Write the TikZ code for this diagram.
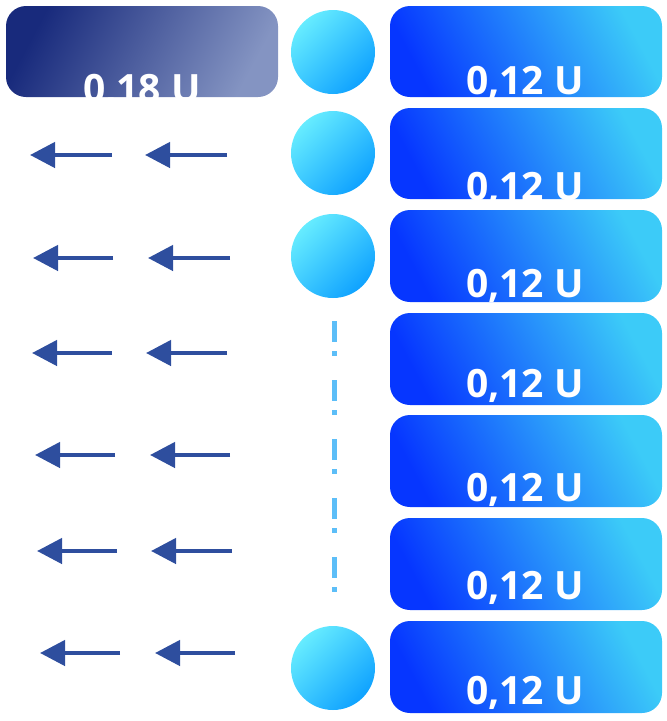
\documentclass[tikz,border=0pt]{standalone}
\usepackage{fontspec}
\setmainfont{Open Sans}
\usetikzlibrary{arrows.meta}
\definecolor{navyA}{HTML}{182A7C}
\definecolor{navyB}{HTML}{8494C2}
\definecolor{blueA}{HTML}{0636FF}
\definecolor{blueB}{HTML}{3CCBF8}
\definecolor{cycA}{HTML}{66ECFF}
\definecolor{cycB}{HTML}{0FA2FF}
\definecolor{arrowc}{HTML}{2E4E9E}
\definecolor{dashc}{HTML}{5CBEF8}
\tikzset{
  leftbox/.style={rounded corners=20pt, top color=navyA, bottom color=navyB, shading angle=62},
  valbox/.style={rounded corners=20pt, top color=blueB, bottom color=blueA, shading angle=-62},
  ball/.style={circle, minimum size=84pt, inner sep=0pt, top color=cycA, bottom color=cycB, shading angle=45},
  valtext/.style={anchor=base, text=white, font=\fontsize{39}{39}\selectfont\bfseries, inner sep=0pt},
  flow/.style={draw=arrowc, line width=4.5pt, -{Triangle[length=25pt,width=25pt]}},
  dotline/.style={draw=dashc, line width=5pt, dash pattern=on 21pt off 9pt on 5pt off 24pt}
}
\begin{document}
\begin{tikzpicture}[x=1pt,y=-1pt]
\useasboundingbox (0,0) rectangle (667,721);
% left header box
\begin{scope}
\path[leftbox] (6,6) rectangle (278,97);
\clip[rounded corners=20pt] (6,6) rectangle (278,97);
\node[valtext] (t0) at (142,102) {0,18 U};
\end{scope}
% right boxes
\foreach \i/\top/\bot/\base in {1/6/97/94, 2/108/199/200, 3/210/302/297, 4/313/405/397, 5/415/507/501, 6/518/610/599, 7/621/713/704}{
  \begin{scope}
  \path[valbox] (390,\top) rectangle (662,\bot);
  \clip[rounded corners=20pt] (390,\top) rectangle (662,\bot);
  \node[valtext] (v\i) at (525,\base) {0,12 U};
  \end{scope}
}
% circles
\node[ball] (c1) at (333,52) {};
\node[ball] (c2) at (333,153) {};
\node[ball] (c3) at (333,256) {};
\node[ball] (c7) at (333,668) {};
% dash-dot line
\coordinate (d1) at (334,321);
\coordinate (d2) at (334,600);
\draw[dotline] (d1) -- (d2);
% arrows
\foreach \j/\y/\xa/\xb/\xc/\xd in {2/155/112/30/227/145, 3/258/113/33/230/148, 4/353/112/32/227/146, 5/455/115/35/230/150, 6/551/117/37/232/151, 7/653/120/40/235/155}{
  \coordinate (a\j s) at (\xa,\y);
  \coordinate (a\j e) at (\xb,\y);
  \coordinate (b\j s) at (\xc,\y);
  \coordinate (b\j e) at (\xd,\y);
  \draw[flow] (a\j s) -- (a\j e);
  \draw[flow] (b\j s) -- (b\j e);
}
\end{tikzpicture}
\end{document}
